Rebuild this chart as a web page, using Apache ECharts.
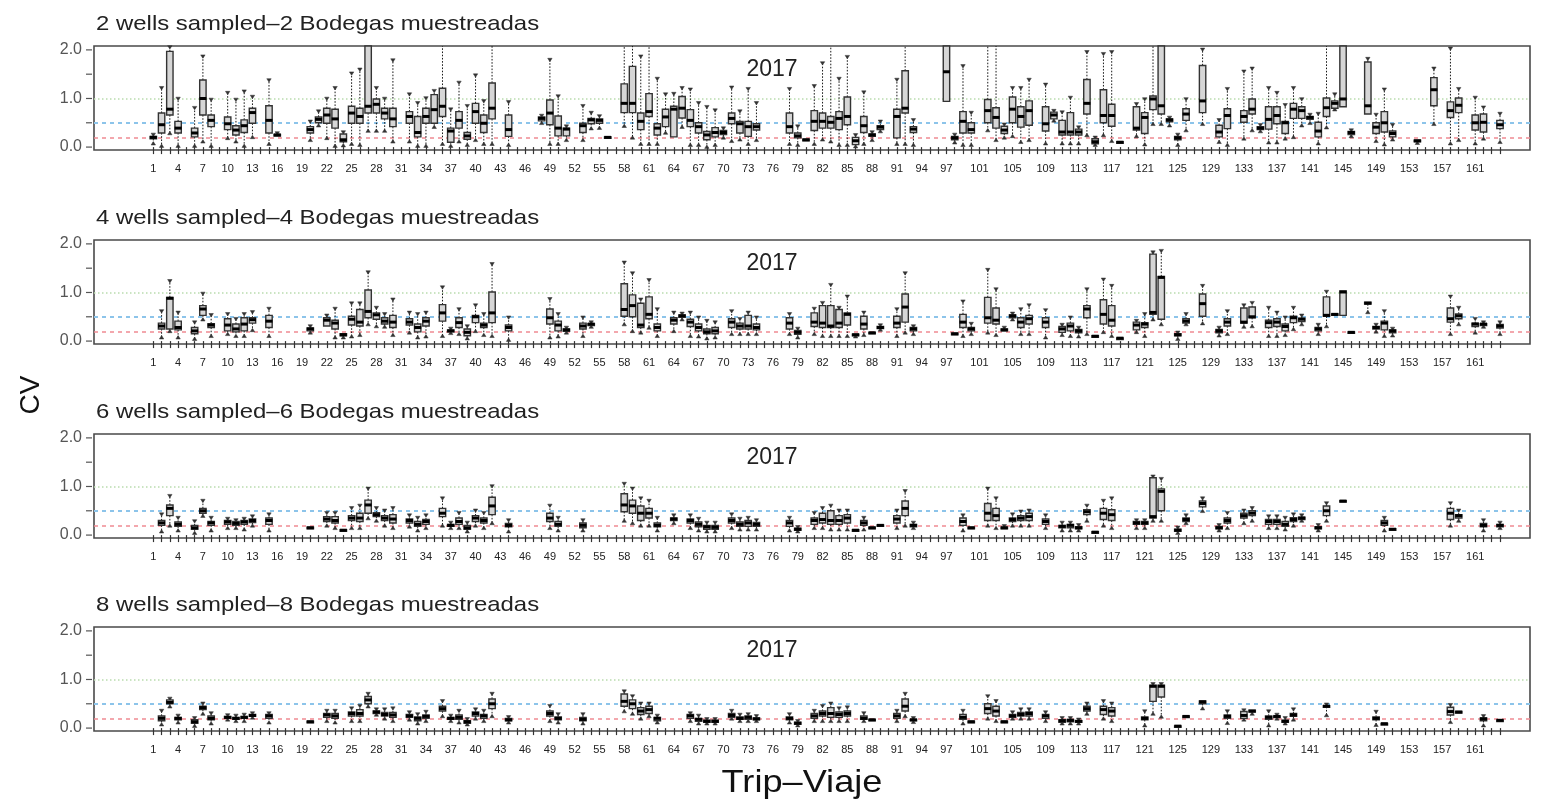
<!DOCTYPE html>
<html>
<head>
<meta charset="utf-8">
<title>CV by trip, 2017</title>
<script src="https://cdn.jsdelivr.net/npm/echarts@6/dist/echarts.min.js"></script>
<style>
  html, body { margin: 0; padding: 0; background: #ffffff; }
  #chart { width: 1543px; height: 801px; }
</style>
</head>
<body>
<div id="chart"></div>
<script>
// Trip numbers shown under the axis (R skips labels that would overlap)
const tripLabels = [1, 4, 7, 10, 13, 16, 19, 22, 25, 28, 31, 34, 37, 40, 43, 46, 49, 52, 55, 58,
  61, 64, 67, 70, 73, 76, 79, 82, 85, 88, 91, 94, 97, 101, 105, 109, 113, 117, 121, 125, 129,
  133, 137, 141, 145, 149, 153, 157, 161];
const firstTrip = 1;
const lastTrip = 164;
const yTicks = [0, 0.5, 1, 1.5, 2];
const yLabels = [0, 1, 2];

// Panel titles
const panelTitles = [
  '2 wells sampled\u20132 Bodegas muestreadas',
  '4 wells sampled\u20134 Bodegas muestreadas',
  '6 wells sampled\u20136 Bodegas muestreadas',
  '8 wells sampled\u20138 Bodegas muestreadas'
];
const yearLabel = '2017';

// Reference CV levels
const refLevels = [1.0, 0.5, 0.2];

// Box statistics per trip: [trip, lower whisker, Q1, median, Q3, upper whisker]
const wells2 = [
  [1, 0.08, 0.17, 0.20, 0.22, 0.25], [2, 0.03, 0.29, 0.46, 0.70, 1.21], [3, 0.29, 0.66, 0.78, 1.97, 2.05],
  [4, 0.03, 0.29, 0.39, 0.53, 0.99], [6, 0.03, 0.21, 0.29, 0.39, 0.80], [7, 0.12, 0.66, 1.00, 1.38, 1.86],
  [8, 0.03, 0.42, 0.55, 0.66, 0.97], [10, 0.19, 0.36, 0.48, 0.62, 1.11], [11, 0.12, 0.25, 0.35, 0.44, 0.97],
  [12, 0.03, 0.30, 0.44, 0.56, 1.14], [13, 0.21, 0.49, 0.71, 0.80, 1.03], [15, 0.07, 0.29, 0.55, 0.85, 1.37],
  [16, 0.22, 0.23, 0.25, 0.26, 0.28], [20, 0.15, 0.29, 0.36, 0.42, 0.52], [21, 0.45, 0.50, 0.57, 0.62, 0.73],
  [22, 0.19, 0.49, 0.66, 0.80, 0.99], [23, 0.03, 0.39, 0.58, 0.78, 1.21], [24, 0.04, 0.11, 0.15, 0.27, 0.30],
  [25, 0.07, 0.49, 0.70, 0.84, 1.51], [26, 0.05, 0.49, 0.63, 0.80, 1.59], [27, 0.34, 0.70, 0.84, 2.30, 2.60],
  [28, 0.34, 0.70, 0.88, 0.99, 1.21], [29, 0.34, 0.58, 0.70, 0.80, 0.99], [30, 0.12, 0.42, 0.58, 0.80, 1.78],
  [32, 0.12, 0.49, 0.63, 0.73, 1.08], [33, 0.03, 0.21, 0.30, 0.63, 0.90], [34, 0.03, 0.49, 0.63, 0.80, 1.00],
  [35, 0.42, 0.49, 0.77, 1.08, 1.15], [36, 0.07, 0.63, 0.84, 1.21, 2.10], [37, 0.03, 0.10, 0.33, 0.39, 0.77],
  [38, 0.12, 0.39, 0.55, 0.73, 1.32], [39, 0.05, 0.16, 0.23, 0.30, 0.84], [40, 0.15, 0.49, 0.73, 0.90, 1.47],
  [41, 0.07, 0.30, 0.49, 0.66, 0.94], [42, 0.07, 0.58, 0.80, 1.32, 2.10], [44, 0.05, 0.22, 0.36, 0.66, 0.92],
  [48, 0.50, 0.54, 0.59, 0.62, 0.64], [49, 0.07, 0.46, 0.70, 0.97, 1.79], [50, 0.07, 0.23, 0.39, 0.64, 1.04],
  [51, 0.15, 0.23, 0.37, 0.39, 0.42], [53, 0.15, 0.30, 0.44, 0.49, 0.84], [54, 0.39, 0.48, 0.56, 0.59, 0.70],
  [55, 0.40, 0.49, 0.55, 0.58, 0.63], [56, 0.18, 0.19, 0.20, 0.21, 0.22], [58, 0.44, 0.71, 0.90, 1.30, 2.10],
  [59, 0.20, 0.71, 0.90, 1.66, 2.10], [60, 0.07, 0.36, 0.53, 0.70, 1.86], [61, 0.07, 0.63, 0.73, 1.10, 2.10],
  [62, 0.07, 0.25, 0.39, 0.48, 1.40], [63, 0.30, 0.42, 0.62, 0.78, 1.08], [64, 0.20, 0.21, 0.78, 0.84, 1.09],
  [65, 0.42, 0.60, 0.80, 1.04, 1.21], [66, 0.05, 0.42, 0.55, 0.77, 1.18], [67, 0.05, 0.29, 0.42, 0.50, 0.90],
  [68, 0.01, 0.15, 0.25, 0.32, 0.82], [69, 0.05, 0.21, 0.30, 0.40, 0.75], [70, 0.20, 0.26, 0.30, 0.34, 0.38],
  [71, 0.13, 0.48, 0.59, 0.70, 1.22], [72, 0.16, 0.29, 0.48, 0.53, 0.73], [73, 0.07, 0.22, 0.42, 0.53, 1.19],
  [74, 0.15, 0.35, 0.42, 0.48, 0.90], [78, 0.07, 0.29, 0.42, 0.70, 1.19], [79, 0.05, 0.19, 0.23, 0.29, 0.42],
  [80, 0.13, 0.14, 0.15, 0.16, 0.17], [81, 0.07, 0.34, 0.53, 0.75, 1.25], [82, 0.16, 0.39, 0.53, 0.70, 1.72],
  [83, 0.12, 0.39, 0.51, 0.63, 2.10], [84, 0.05, 0.36, 0.59, 0.73, 1.40], [85, 0.05, 0.46, 0.63, 1.03, 1.85],
  [86, 0.02, 0.05, 0.13, 0.20, 0.24], [87, 0.07, 0.30, 0.44, 0.63, 1.12], [88, 0.15, 0.22, 0.25, 0.27, 0.30],
  [89, 0.33, 0.36, 0.41, 0.44, 0.52], [91, 0.07, 0.19, 0.63, 0.78, 1.38], [92, 0.07, 0.70, 0.80, 1.57, 2.10],
  [93, 0.05, 0.30, 0.37, 0.42, 0.55], [97, 0.94, 0.94, 1.55, 2.30, 2.60], [98, 0.10, 0.15, 0.19, 0.22, 0.25],
  [99, 0.05, 0.29, 0.53, 0.73, 1.66], [100, 0.05, 0.29, 0.36, 0.50, 0.70], [102, 0.35, 0.50, 0.75, 0.98, 2.10],
  [103, 0.15, 0.39, 0.61, 0.81, 2.10], [104, 0.20, 0.28, 0.35, 0.43, 0.46], [105, 0.23, 0.50, 0.78, 1.03, 1.21],
  [106, 0.11, 0.41, 0.63, 0.83, 1.21], [107, 0.15, 0.45, 0.75, 0.95, 1.38], [109, 0.08, 0.33, 0.48, 0.83, 1.28],
  [110, 0.55, 0.58, 0.66, 0.72, 0.74], [111, 0.08, 0.25, 0.31, 0.55, 0.71], [112, 0.08, 0.25, 0.31, 0.71, 1.01],
  [113, 0.08, 0.25, 0.31, 0.37, 0.40], [114, 0.25, 0.68, 0.90, 1.39, 1.95], [115, 0.05, 0.07, 0.11, 0.17, 0.19],
  [116, 0.25, 0.50, 0.65, 1.18, 1.91], [117, 0.13, 0.43, 0.65, 0.88, 1.95], [118, 0.08, 0.09, 0.10, 0.11, 0.12],
  [120, 0.23, 0.35, 0.39, 0.83, 0.88], [121, 0.06, 0.28, 0.61, 0.71, 0.98], [122, 0.48, 0.77, 0.99, 1.05, 2.10],
  [123, 0.48, 0.68, 0.85, 2.30, 2.60], [124, 0.45, 0.52, 0.56, 0.58, 0.60], [125, 0.05, 0.15, 0.19, 0.22, 0.25],
  [126, 0.35, 0.55, 0.68, 0.79, 0.98], [128, 0.48, 0.71, 0.95, 1.68, 2.00], [130, 0.11, 0.21, 0.31, 0.45, 0.55],
  [131, 0.05, 0.38, 0.65, 0.79, 1.19], [133, 0.18, 0.51, 0.63, 0.75, 1.55], [134, 0.35, 0.68, 0.78, 0.99, 1.61],
  [135, 0.33, 0.36, 0.39, 0.42, 0.45], [136, 0.10, 0.37, 0.57, 0.83, 1.21], [137, 0.10, 0.48, 0.65, 0.83, 1.11],
  [138, 0.18, 0.28, 0.50, 0.53, 0.86], [139, 0.21, 0.59, 0.78, 0.90, 1.21], [140, 0.45, 0.59, 0.75, 0.83, 0.98],
  [141, 0.50, 0.57, 0.61, 0.63, 0.66], [142, 0.08, 0.21, 0.33, 0.51, 0.68], [143, 0.41, 0.63, 0.81, 1.01, 2.10],
  [144, 0.78, 0.80, 0.90, 0.95, 1.08], [145, 0.83, 0.83, 0.99, 2.30, 2.60], [146, 0.23, 0.26, 0.30, 0.32, 0.34],
  [148, 0.68, 0.68, 0.85, 1.75, 1.81], [149, 0.13, 0.28, 0.41, 0.50, 0.66], [150, 0.06, 0.31, 0.50, 0.73, 1.18],
  [151, 0.16, 0.21, 0.28, 0.33, 0.45], [154, 0.09, 0.11, 0.13, 0.14, 0.15], [156, 0.48, 0.85, 1.18, 1.43, 1.61],
  [158, 0.08, 0.61, 0.75, 0.93, 2.02], [159, 0.15, 0.71, 0.86, 1.01, 1.19], [161, 0.08, 0.35, 0.50, 0.66, 1.01],
  [162, 0.18, 0.31, 0.51, 0.68, 0.81], [164, 0.11, 0.38, 0.46, 0.55, 0.68]
];

const wells4 = [
  [2, 0.08, 0.25, 0.31, 0.37, 0.61], [3, 0.21, 0.25, 0.88, 0.90, 1.23], [4, 0.08, 0.23, 0.28, 0.41, 0.58],
  [6, 0.05, 0.15, 0.21, 0.28, 0.38], [7, 0.45, 0.53, 0.66, 0.73, 0.97], [8, 0.11, 0.28, 0.33, 0.36, 0.53],
  [10, 0.15, 0.21, 0.33, 0.46, 0.55], [11, 0.11, 0.19, 0.25, 0.35, 0.45], [12, 0.11, 0.21, 0.35, 0.48, 0.55],
  [13, 0.23, 0.37, 0.44, 0.48, 0.59], [15, 0.11, 0.28, 0.41, 0.53, 0.66], [20, 0.18, 0.21, 0.25, 0.27, 0.30],
  [22, 0.30, 0.31, 0.43, 0.48, 0.52], [23, 0.08, 0.25, 0.37, 0.43, 0.66], [24, 0.08, 0.11, 0.13, 0.15, 0.16],
  [25, 0.10, 0.33, 0.45, 0.51, 0.77], [26, 0.13, 0.31, 0.39, 0.65, 0.77], [27, 0.35, 0.48, 0.61, 1.05, 1.41],
  [28, 0.31, 0.45, 0.54, 0.58, 0.68], [29, 0.30, 0.35, 0.41, 0.48, 0.55], [30, 0.13, 0.28, 0.39, 0.53, 0.85],
  [32, 0.18, 0.33, 0.39, 0.46, 0.58], [33, 0.08, 0.19, 0.28, 0.35, 0.55], [34, 0.10, 0.31, 0.41, 0.48, 0.58],
  [36, 0.11, 0.41, 0.58, 0.75, 1.10], [37, 0.17, 0.19, 0.21, 0.23, 0.25], [38, 0.15, 0.28, 0.38, 0.48, 0.65],
  [39, 0.06, 0.11, 0.18, 0.25, 0.30], [40, 0.21, 0.38, 0.50, 0.53, 0.73], [41, 0.13, 0.28, 0.33, 0.37, 0.55],
  [42, 0.11, 0.38, 0.58, 1.01, 1.58], [44, 0.03, 0.21, 0.28, 0.33, 0.48], [49, 0.08, 0.35, 0.48, 0.66, 0.86],
  [50, 0.10, 0.21, 0.33, 0.41, 0.55], [51, 0.18, 0.20, 0.23, 0.25, 0.27], [53, 0.11, 0.25, 0.31, 0.37, 0.48],
  [54, 0.30, 0.32, 0.35, 0.36, 0.38], [58, 0.35, 0.51, 0.65, 1.18, 1.61], [59, 0.21, 0.50, 0.73, 0.95, 1.39],
  [60, 0.18, 0.28, 0.33, 0.78, 0.85], [61, 0.28, 0.46, 0.55, 0.91, 1.25], [62, 0.11, 0.21, 0.28, 0.35, 0.65],
  [64, 0.21, 0.35, 0.43, 0.48, 0.58], [65, 0.45, 0.49, 0.52, 0.54, 0.56], [66, 0.11, 0.30, 0.39, 0.45, 0.58],
  [67, 0.10, 0.21, 0.28, 0.35, 0.48], [68, 0.06, 0.15, 0.19, 0.25, 0.41], [69, 0.08, 0.15, 0.21, 0.28, 0.38],
  [71, 0.15, 0.28, 0.39, 0.46, 0.61], [72, 0.15, 0.25, 0.31, 0.37, 0.45], [73, 0.15, 0.25, 0.31, 0.53, 0.58],
  [74, 0.15, 0.23, 0.28, 0.35, 0.48], [78, 0.15, 0.25, 0.37, 0.48, 0.55], [79, 0.08, 0.14, 0.18, 0.22, 0.25],
  [81, 0.15, 0.30, 0.39, 0.58, 0.66], [82, 0.11, 0.28, 0.37, 0.73, 0.78], [83, 0.11, 0.28, 0.31, 0.73, 1.15],
  [84, 0.11, 0.28, 0.37, 0.65, 0.68], [85, 0.11, 0.33, 0.55, 0.58, 0.91], [86, 0.10, 0.12, 0.13, 0.14, 0.15],
  [87, 0.13, 0.25, 0.35, 0.51, 0.58], [88, 0.14, 0.15, 0.17, 0.18, 0.19], [89, 0.24, 0.26, 0.28, 0.30, 0.32],
  [91, 0.11, 0.28, 0.37, 0.51, 0.65], [92, 0.18, 0.39, 0.70, 0.97, 1.39], [93, 0.15, 0.21, 0.25, 0.28, 0.30],
  [98, 0.12, 0.13, 0.15, 0.16, 0.17], [99, 0.11, 0.28, 0.39, 0.55, 0.81], [100, 0.15, 0.21, 0.25, 0.28, 0.35],
  [102, 0.18, 0.37, 0.48, 0.90, 1.46], [103, 0.13, 0.35, 0.43, 0.68, 1.06], [104, 0.20, 0.21, 0.23, 0.25, 0.27],
  [105, 0.45, 0.48, 0.52, 0.54, 0.56], [106, 0.15, 0.28, 0.39, 0.48, 0.65], [107, 0.15, 0.35, 0.46, 0.53, 0.73],
  [109, 0.08, 0.28, 0.39, 0.48, 0.63], [111, 0.13, 0.18, 0.25, 0.30, 0.33], [112, 0.11, 0.21, 0.31, 0.37, 0.48],
  [113, 0.10, 0.17, 0.21, 0.24, 0.27], [114, 0.15, 0.48, 0.66, 0.73, 1.06], [115, 0.08, 0.09, 0.10, 0.11, 0.12],
  [116, 0.19, 0.35, 0.55, 0.85, 1.26], [117, 0.11, 0.31, 0.43, 0.73, 1.13], [118, 0.05, 0.055, 0.06, 0.065, 0.07],
  [120, 0.19, 0.23, 0.33, 0.39, 0.41], [121, 0.11, 0.28, 0.35, 0.38, 0.55], [122, 0.45, 0.55, 0.59, 1.79, 1.82],
  [123, 0.35, 0.45, 1.31, 1.33, 1.85], [125, 0.05, 0.11, 0.13, 0.15, 0.17], [126, 0.35, 0.37, 0.41, 0.46, 0.55],
  [128, 0.37, 0.51, 0.77, 0.97, 1.13], [130, 0.12, 0.17, 0.21, 0.24, 0.27], [131, 0.15, 0.31, 0.39, 0.46, 0.61],
  [133, 0.30, 0.37, 0.39, 0.68, 0.73], [134, 0.31, 0.48, 0.50, 0.70, 0.78], [136, 0.11, 0.28, 0.38, 0.43, 0.68],
  [137, 0.11, 0.30, 0.39, 0.46, 0.58], [138, 0.13, 0.21, 0.30, 0.35, 0.48], [139, 0.25, 0.38, 0.48, 0.51, 0.68],
  [140, 0.35, 0.40, 0.45, 0.47, 0.52], [142, 0.15, 0.21, 0.25, 0.28, 0.33], [143, 0.31, 0.51, 0.53, 0.91, 1.01],
  [144, 0.53, 0.54, 0.55, 0.56, 0.57], [145, 0.53, 0.53, 1.01, 1.03, 1.03], [146, 0.16, 0.17, 0.18, 0.19, 0.20],
  [148, 0.60, 0.76, 0.78, 0.80, 0.81], [149, 0.20, 0.25, 0.28, 0.30, 0.33], [150, 0.11, 0.23, 0.37, 0.41, 0.61],
  [151, 0.12, 0.17, 0.21, 0.23, 0.25], [158, 0.15, 0.39, 0.46, 0.68, 0.91], [159, 0.35, 0.46, 0.52, 0.56, 0.68],
  [161, 0.18, 0.30, 0.35, 0.37, 0.45], [162, 0.30, 0.32, 0.35, 0.36, 0.38], [164, 0.15, 0.27, 0.31, 0.34, 0.38]
];

const wells6 = [
  [2, 0.08, 0.20, 0.25, 0.30, 0.42], [3, 0.20, 0.40, 0.55, 0.62, 0.80], [4, 0.10, 0.18, 0.22, 0.27, 0.35],
  [6, 0.05, 0.12, 0.15, 0.20, 0.28], [7, 0.40, 0.45, 0.50, 0.55, 0.70], [8, 0.10, 0.20, 0.25, 0.28, 0.35],
  [10, 0.15, 0.22, 0.27, 0.30, 0.33], [11, 0.15, 0.20, 0.24, 0.28, 0.30], [12, 0.12, 0.22, 0.27, 0.30, 0.33],
  [13, 0.20, 0.26, 0.30, 0.33, 0.38], [15, 0.10, 0.22, 0.30, 0.35, 0.42], [20, 0.13, 0.14, 0.15, 0.16, 0.17],
  [22, 0.20, 0.28, 0.33, 0.38, 0.45], [23, 0.15, 0.25, 0.30, 0.38, 0.45], [24, 0.08, 0.09, 0.10, 0.11, 0.12],
  [25, 0.15, 0.30, 0.35, 0.40, 0.55], [26, 0.15, 0.28, 0.35, 0.45, 0.60], [27, 0.35, 0.45, 0.62, 0.72, 0.95],
  [28, 0.30, 0.38, 0.42, 0.46, 0.55], [29, 0.20, 0.30, 0.35, 0.40, 0.50], [30, 0.15, 0.25, 0.33, 0.42, 0.55],
  [32, 0.18, 0.25, 0.30, 0.33, 0.40], [33, 0.10, 0.18, 0.22, 0.28, 0.35], [34, 0.15, 0.22, 0.28, 0.32, 0.40],
  [36, 0.20, 0.38, 0.45, 0.55, 0.75], [37, 0.15, 0.18, 0.20, 0.22, 0.25], [38, 0.15, 0.22, 0.28, 0.35, 0.45],
  [39, 0.08, 0.12, 0.15, 0.20, 0.25], [40, 0.20, 0.28, 0.35, 0.40, 0.50], [41, 0.15, 0.25, 0.30, 0.35, 0.45],
  [42, 0.25, 0.42, 0.60, 0.78, 1.00], [44, 0.08, 0.17, 0.20, 0.24, 0.30], [49, 0.15, 0.28, 0.35, 0.45, 0.60],
  [50, 0.10, 0.18, 0.22, 0.28, 0.35], [53, 0.10, 0.15, 0.20, 0.25, 0.30], [58, 0.30, 0.48, 0.62, 0.85, 1.05],
  [59, 0.25, 0.45, 0.60, 0.72, 0.95], [60, 0.20, 0.30, 0.45, 0.60, 0.75], [61, 0.20, 0.35, 0.45, 0.55, 0.70],
  [62, 0.10, 0.17, 0.20, 0.25, 0.35], [64, 0.25, 0.30, 0.33, 0.35, 0.40], [66, 0.15, 0.25, 0.30, 0.33, 0.40],
  [67, 0.10, 0.17, 0.22, 0.27, 0.33], [68, 0.08, 0.12, 0.17, 0.20, 0.25], [69, 0.08, 0.12, 0.16, 0.20, 0.25],
  [71, 0.15, 0.25, 0.30, 0.35, 0.42], [72, 0.12, 0.18, 0.22, 0.27, 0.33], [73, 0.12, 0.18, 0.25, 0.30, 0.35],
  [74, 0.12, 0.18, 0.22, 0.26, 0.30], [78, 0.10, 0.18, 0.25, 0.30, 0.35], [79, 0.08, 0.10, 0.12, 0.14, 0.16],
  [81, 0.15, 0.22, 0.30, 0.35, 0.45], [82, 0.15, 0.25, 0.32, 0.45, 0.55], [83, 0.12, 0.22, 0.30, 0.50, 0.60],
  [84, 0.12, 0.22, 0.30, 0.40, 0.50], [85, 0.12, 0.25, 0.35, 0.42, 0.50], [86, 0.08, 0.09, 0.10, 0.11, 0.12],
  [87, 0.12, 0.20, 0.25, 0.30, 0.35], [88, 0.13, 0.14, 0.15, 0.16, 0.17], [89, 0.17, 0.18, 0.20, 0.21, 0.22],
  [91, 0.15, 0.25, 0.33, 0.40, 0.50], [92, 0.20, 0.40, 0.55, 0.70, 0.90], [93, 0.15, 0.17, 0.20, 0.22, 0.25],
  [99, 0.10, 0.20, 0.28, 0.35, 0.40], [100, 0.12, 0.13, 0.15, 0.16, 0.17], [102, 0.20, 0.30, 0.45, 0.65, 0.95],
  [103, 0.15, 0.30, 0.40, 0.55, 0.75], [104, 0.12, 0.13, 0.15, 0.16, 0.18], [105, 0.20, 0.28, 0.32, 0.35, 0.42],
  [106, 0.20, 0.30, 0.35, 0.40, 0.48], [107, 0.20, 0.30, 0.38, 0.45, 0.50], [109, 0.15, 0.22, 0.28, 0.33, 0.40],
  [111, 0.10, 0.15, 0.18, 0.20, 0.25], [112, 0.10, 0.15, 0.20, 0.22, 0.25], [113, 0.10, 0.13, 0.15, 0.17, 0.20],
  [114, 0.30, 0.42, 0.48, 0.52, 0.60], [115, 0.04, 0.05, 0.06, 0.07, 0.08], [116, 0.20, 0.32, 0.45, 0.55, 0.70],
  [117, 0.15, 0.30, 0.42, 0.52, 0.75], [120, 0.15, 0.22, 0.25, 0.28, 0.30], [121, 0.15, 0.22, 0.25, 0.28, 0.30],
  [122, 0.30, 0.35, 0.38, 1.18, 1.20], [123, 0.30, 0.50, 0.90, 0.95, 1.15], [125, 0.05, 0.08, 0.10, 0.12, 0.15],
  [126, 0.25, 0.28, 0.32, 0.35, 0.40], [128, 0.50, 0.58, 0.65, 0.70, 0.75], [130, 0.10, 0.13, 0.15, 0.18, 0.20],
  [131, 0.15, 0.25, 0.30, 0.35, 0.45], [133, 0.25, 0.35, 0.40, 0.45, 0.50], [134, 0.30, 0.40, 0.45, 0.50, 0.55],
  [136, 0.15, 0.22, 0.28, 0.32, 0.38], [137, 0.15, 0.22, 0.28, 0.32, 0.38], [138, 0.12, 0.18, 0.22, 0.28, 0.35],
  [139, 0.20, 0.28, 0.32, 0.36, 0.42], [140, 0.30, 0.32, 0.35, 0.37, 0.40], [142, 0.10, 0.13, 0.15, 0.17, 0.20],
  [143, 0.30, 0.40, 0.50, 0.60, 0.65], [145, 0.68, 0.69, 0.70, 0.71, 0.72], [150, 0.10, 0.20, 0.25, 0.30, 0.35],
  [151, 0.10, 0.11, 0.12, 0.13, 0.14], [158, 0.20, 0.32, 0.45, 0.55, 0.65], [159, 0.30, 0.35, 0.40, 0.42, 0.50],
  [162, 0.10, 0.17, 0.20, 0.24, 0.30], [164, 0.15, 0.17, 0.20, 0.22, 0.25]
];

const wells8 = [
  [2, 0.08, 0.15, 0.20, 0.25, 0.35], [3, 0.45, 0.50, 0.53, 0.58, 0.60], [4, 0.12, 0.17, 0.20, 0.22, 0.25],
  [6, 0.05, 0.10, 0.13, 0.17, 0.20], [7, 0.30, 0.38, 0.42, 0.45, 0.50], [8, 0.10, 0.17, 0.20, 0.25, 0.30],
  [10, 0.18, 0.20, 0.22, 0.24, 0.26], [11, 0.15, 0.18, 0.20, 0.22, 0.25], [12, 0.15, 0.20, 0.22, 0.24, 0.27],
  [13, 0.22, 0.24, 0.26, 0.28, 0.30], [15, 0.12, 0.20, 0.25, 0.28, 0.30], [20, 0.11, 0.12, 0.13, 0.14, 0.15],
  [22, 0.15, 0.22, 0.27, 0.30, 0.35], [23, 0.12, 0.20, 0.25, 0.30, 0.35], [25, 0.15, 0.25, 0.30, 0.33, 0.40],
  [26, 0.15, 0.25, 0.30, 0.38, 0.45], [27, 0.45, 0.50, 0.58, 0.65, 0.70], [28, 0.28, 0.30, 0.33, 0.35, 0.38],
  [29, 0.20, 0.25, 0.28, 0.32, 0.38], [30, 0.15, 0.22, 0.27, 0.32, 0.40], [32, 0.18, 0.22, 0.25, 0.28, 0.32],
  [33, 0.10, 0.15, 0.20, 0.23, 0.28], [34, 0.15, 0.20, 0.24, 0.27, 0.33], [36, 0.25, 0.35, 0.40, 0.45, 0.55],
  [37, 0.15, 0.18, 0.20, 0.22, 0.25], [38, 0.12, 0.18, 0.22, 0.27, 0.35], [39, 0.08, 0.10, 0.13, 0.15, 0.18],
  [40, 0.20, 0.25, 0.30, 0.33, 0.38], [41, 0.15, 0.20, 0.25, 0.28, 0.35], [42, 0.25, 0.40, 0.50, 0.60, 0.70],
  [44, 0.12, 0.15, 0.17, 0.20, 0.22], [49, 0.15, 0.25, 0.30, 0.35, 0.45], [50, 0.12, 0.17, 0.20, 0.23, 0.28],
  [53, 0.10, 0.15, 0.18, 0.22, 0.28], [58, 0.35, 0.45, 0.55, 0.70, 0.75], [59, 0.30, 0.40, 0.50, 0.58, 0.65],
  [60, 0.20, 0.28, 0.35, 0.42, 0.50], [61, 0.25, 0.30, 0.38, 0.45, 0.50], [62, 0.12, 0.15, 0.20, 0.22, 0.25],
  [66, 0.15, 0.20, 0.25, 0.28, 0.30], [67, 0.10, 0.14, 0.18, 0.20, 0.25], [68, 0.10, 0.12, 0.14, 0.16, 0.18],
  [69, 0.10, 0.12, 0.14, 0.16, 0.18], [71, 0.20, 0.22, 0.26, 0.30, 0.35], [72, 0.15, 0.18, 0.20, 0.23, 0.27],
  [73, 0.15, 0.18, 0.22, 0.25, 0.28], [74, 0.15, 0.17, 0.19, 0.21, 0.24], [78, 0.12, 0.17, 0.20, 0.23, 0.28],
  [79, 0.06, 0.08, 0.10, 0.12, 0.14], [81, 0.15, 0.20, 0.25, 0.30, 0.35], [82, 0.15, 0.25, 0.30, 0.35, 0.45],
  [83, 0.15, 0.22, 0.30, 0.42, 0.50], [84, 0.15, 0.22, 0.28, 0.33, 0.40], [85, 0.15, 0.25, 0.30, 0.35, 0.42],
  [87, 0.15, 0.18, 0.20, 0.25, 0.30], [88, 0.15, 0.16, 0.17, 0.18, 0.19], [91, 0.15, 0.20, 0.25, 0.30, 0.35],
  [92, 0.25, 0.35, 0.45, 0.60, 0.70], [93, 0.13, 0.15, 0.17, 0.18, 0.20], [99, 0.10, 0.18, 0.22, 0.28, 0.35],
  [100, 0.10, 0.11, 0.13, 0.14, 0.15], [102, 0.20, 0.30, 0.40, 0.50, 0.65], [103, 0.15, 0.25, 0.35, 0.45, 0.55],
  [104, 0.10, 0.11, 0.13, 0.14, 0.15], [105, 0.20, 0.22, 0.25, 0.28, 0.32], [106, 0.20, 0.25, 0.28, 0.32, 0.38],
  [107, 0.20, 0.25, 0.30, 0.33, 0.38], [109, 0.15, 0.20, 0.25, 0.28, 0.32], [111, 0.10, 0.12, 0.15, 0.17, 0.20],
  [112, 0.10, 0.13, 0.16, 0.18, 0.20], [113, 0.10, 0.12, 0.14, 0.15, 0.17], [114, 0.30, 0.35, 0.40, 0.45, 0.50],
  [116, 0.20, 0.28, 0.38, 0.45, 0.55], [117, 0.15, 0.25, 0.35, 0.42, 0.50], [121, 0.06, 0.17, 0.20, 0.23, 0.34],
  [122, 0.30, 0.55, 0.86, 0.88, 0.90], [123, 0.24, 0.64, 0.86, 0.88, 0.90], [125, 0.03, 0.035, 0.04, 0.045, 0.05],
  [126, 0.22, 0.23, 0.24, 0.25, 0.26], [128, 0.41, 0.50, 0.54, 0.56, 0.57], [131, 0.11, 0.20, 0.24, 0.27, 0.34],
  [133, 0.18, 0.20, 0.26, 0.34, 0.36], [134, 0.30, 0.33, 0.35, 0.37, 0.38], [136, 0.06, 0.18, 0.22, 0.25, 0.34],
  [137, 0.20, 0.22, 0.24, 0.25, 0.27], [138, 0.10, 0.12, 0.14, 0.16, 0.20], [139, 0.18, 0.24, 0.27, 0.30, 0.38],
  [143, 0.27, 0.44, 0.45, 0.46, 0.48], [149, 0.07, 0.17, 0.20, 0.23, 0.33], [150, 0.08, 0.085, 0.09, 0.095, 0.10],
  [158, 0.13, 0.27, 0.34, 0.43, 0.47], [159, 0.30, 0.31, 0.33, 0.34, 0.35], [162, 0.06, 0.15, 0.19, 0.21, 0.24],
  [164, 0.15, 0.155, 0.16, 0.165, 0.17]
];

const panelData = [wells2, wells4, wells6, wells8];

// ---- layout ----
const plotLeft = 94;
const plotWidth = 1436;
const plotHeight = 104;
const panelTops = [46, 240, 434, 627];
const xMin = -6.18, xMax = 167.63;
const yMin = -0.06, yMax = 2.08;
const FONT = 'Liberation Sans, Arial, Helvetica, sans-serif';

const tripTicks = [];
for (let t = firstTrip; t <= lastTrip; t++) tripTicks.push(t);

const refStyles = [
  { color: '#b9dcae', type: [1.5, 2.5], width: 1.5 },
  { color: '#8cc4ea', type: [4, 4], width: 2 },
  { color: '#ef8a93', type: [4, 4], width: 1.5 }
];

// Draw one box-and-whisker glyph, clipped to the panel
function renderBox(params, api) {
  const trip = api.value(0);
  const stats = [api.value(1), api.value(2), api.value(3), api.value(4), api.value(5)];
  const cs = params.coordSys;
  const top = cs.y, bottom = cs.y + cs.height;
  const cx = api.coord([trip, 0])[0];
  const raw = stats.map(v => api.coord([trip, v])[1]);
  const clip = y => Math.min(bottom, Math.max(top, y));
  const yLo = clip(raw[0]), yQ1 = clip(raw[1]), yMed = clip(raw[2]), yQ3 = clip(raw[3]), yHi = clip(raw[4]);
  const hw = 3.2;
  const kids = [];
  const whisk = { stroke: '#1a1a1a', lineWidth: 1, lineDash: [1.6, 1.6] };
  if (yQ3 - yHi > 0.5) {
    kids.push({ type: 'line', shape: { x1: cx, y1: yQ3, x2: cx, y2: yHi }, style: whisk });
    if (raw[4] >= top) {
      kids.push({ type: 'polygon', shape: { points: [[cx - 2.2, yHi - 1.8], [cx + 2.2, yHi - 1.8], [cx, yHi + 1.6]] },
        style: { fill: '#333', stroke: '#333', lineWidth: 0.5 } });
    }
  }
  if (yLo - yQ1 > 0.5) {
    kids.push({ type: 'line', shape: { x1: cx, y1: yQ1, x2: cx, y2: yLo }, style: whisk });
    kids.push({ type: 'polygon', shape: { points: [[cx - 2.2, yLo + 1.8], [cx + 2.2, yLo + 1.8], [cx, yLo - 1.6]] },
      style: { fill: '#333', stroke: '#333', lineWidth: 0.5 } });
  }
  kids.push({ type: 'rect', shape: { x: cx - hw, y: yQ3, width: hw * 2, height: Math.max(yQ1 - yQ3, 1.5) },
    style: { fill: '#d6d6d6', stroke: '#333333', lineWidth: 1.4 } });
  kids.push({ type: 'line', shape: { x1: cx - hw - 0.3, y1: yMed, x2: cx + hw + 0.3, y2: yMed },
    style: { stroke: '#000', lineWidth: 3 } });
  return { type: 'group', children: kids };
}

// Short tick marks left of each panel at the y tick values
function renderYTick(params, api) {
  const y = api.coord([xMin, api.value(1)])[1];
  const x0 = params.coordSys.x;
  return { type: 'line', shape: { x1: x0 - 8, y1: y, x2: x0 - 2, y2: y },
    style: { stroke: '#555', lineWidth: 1.2 } };
}

const grids = [], xAxes = [], yAxes = [], series = [], graphics = [];
panelTops.forEach((top, i) => {
  grids.push({ left: plotLeft, top: top, width: plotWidth, height: plotHeight, show: true,
    borderColor: '#4a4a4a', borderWidth: 1.6, backgroundColor: 'transparent', containLabel: false });
  xAxes.push({
    type: 'value', gridIndex: i, min: xMin, max: xMax, offset: 3,
    axisLine: { show: false }, splitLine: { show: false },
    axisTick: { show: true, customValues: tripTicks, length: 7, lineStyle: { color: '#333', width: 1.2 } },
    axisLabel: { show: true, customValues: tripLabels, fontSize: 11, margin: 10, color: '#222', fontFamily: FONT }
  });
  yAxes.push({
    type: 'value', gridIndex: i, min: yMin, max: yMax, offset: 2,
    axisLine: { show: false }, splitLine: { show: false },
    axisTick: { show: false },
    axisLabel: { show: true, customValues: yLabels, fontSize: 16, margin: 10, color: '#555',
      fontFamily: FONT, formatter: v => Number(v).toFixed(1) }
  });
  series.push({
    type: 'custom', xAxisIndex: i, yAxisIndex: i,
    renderItem: renderBox,
    encode: { x: 0, y: [1, 2, 3, 4, 5] },
    data: panelData[i],
    z: 3,
    markLine: {
      silent: true, symbol: 'none', label: { show: false }, z: 2,
      data: refLevels.map((v, k) => ({ yAxis: v, lineStyle: refStyles[k] }))
    }
  });
  series.push({
    type: 'custom', xAxisIndex: i, yAxisIndex: i,
    renderItem: renderYTick,
    encode: { x: 0, y: 1 },
    data: yTicks.map(v => [xMin, v]),
    silent: true, z: 3
  });
  graphics.push({
    type: 'text', x: 96, y: top - 32, scaleX: 1.14,
    style: { text: panelTitles[i], fontSize: 21, fill: '#222', fontFamily: FONT }
  });
  graphics.push({
    type: 'text', x: 772, y: top + 24,
    style: { text: yearLabel, fontSize: 23, fill: '#222', align: 'center', verticalAlign: 'middle', fontFamily: FONT }
  });
});

graphics.push({
  type: 'text', x: 31, y: 395, rotation: Math.PI / 2,
  style: { text: 'CV', fontSize: 28, fill: '#111', align: 'center', verticalAlign: 'middle', fontFamily: FONT }
});
graphics.push({
  type: 'text', x: 802, y: 783, scaleX: 1.13,
  style: { text: 'Trip\u2013Viaje', fontSize: 32, fill: '#111', align: 'center', verticalAlign: 'middle', fontFamily: FONT }
});

const chart = echarts.init(document.getElementById('chart'), null, { renderer: 'canvas' });
chart.setOption({
  animation: false,
  backgroundColor: '#ffffff',
  grid: grids,
  xAxis: xAxes,
  yAxis: yAxes,
  series: series,
  graphic: graphics
});
</script>
</body>
</html>
